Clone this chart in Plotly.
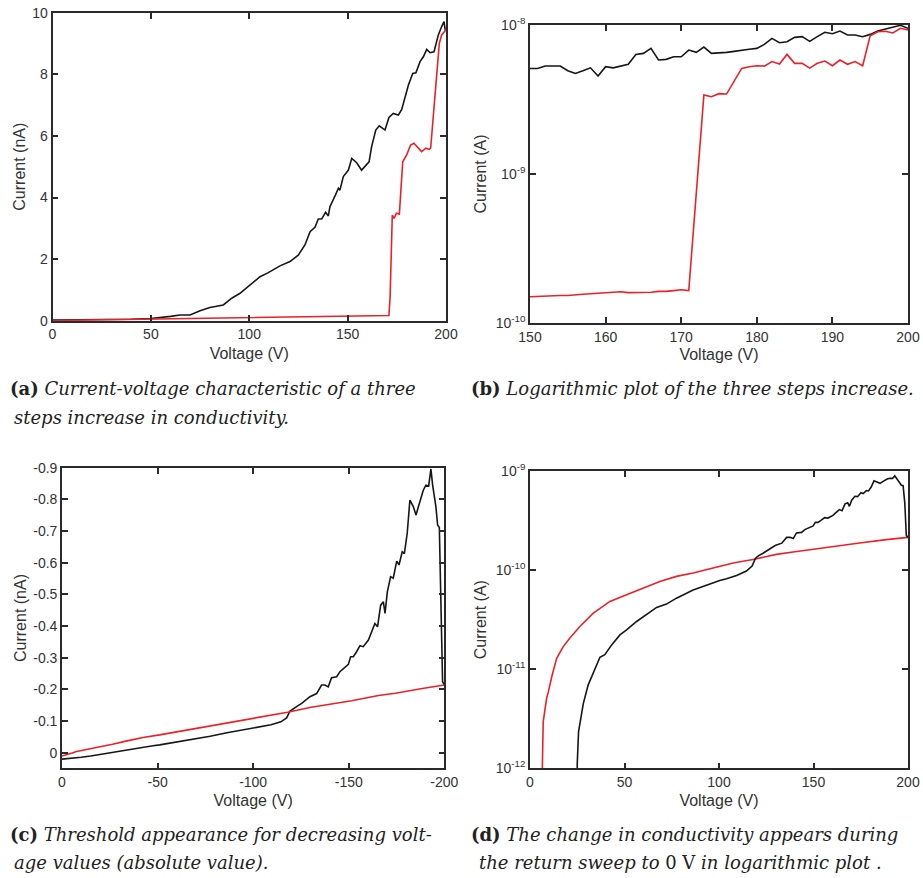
import plotly.graph_objects as go

# ---------------- data ----------------
# (a) Up sweep, linear plot, current in nA
v_a_black = [0, 10, 20, 30, 40, 50, 55, 60, 64.8, 69.9, 75, 80, 86.8, 91.1, 95.3, 99.5,
             105.5, 109.7, 115.6, 120.7, 123.3, 124.9, 128.3, 130.9, 133.4, 135.1, 136.8,
             138.8, 140.2, 141, 143.6, 145.3, 146.1, 147.8, 150.4, 152.1, 154.6, 157.1,
             160.9, 162.2, 164.3, 166.1, 169, 171, 173.2, 175.8, 177.5, 179.2, 180.9,
             183.1, 184.7, 186.8, 188.5, 190.2, 191.9, 193.9, 196.1, 197.8, 199, 199.6]
i_a_black = [0.02, 0.025, 0.03, 0.035, 0.045, 0.07, 0.10, 0.14, 0.185, 0.185, 0.32, 0.43,
             0.51, 0.73, 0.89, 1.10, 1.43, 1.56, 1.78, 1.92, 2.06, 2.13, 2.46, 2.89, 3.03,
             3.30, 3.30, 3.52, 3.40, 3.70, 4.05, 4.30, 4.24, 4.68, 4.89, 5.27, 5.13, 4.89,
             5.16, 5.65, 6.19, 6.33, 6.19, 6.60, 6.73, 6.68, 6.86, 7.27, 7.65, 8.03, 8.05,
             8.41, 8.57, 8.81, 8.70, 8.73, 9.28, 9.55, 9.71, 9.44]

v_a_red = [0, 25, 50, 75, 100, 125, 150, 171, 171.6, 172.7, 173.6, 174.8, 176.3, 178,
           180, 182, 183.7, 185.4, 187.6, 189.8, 191.5, 192.2, 194.4, 196.6, 197.8, 199.5,
           200]
i_a_red = [0.004, 0.028, 0.054, 0.081, 0.104, 0.128, 0.150, 0.168, 0.78, 3.43, 3.32, 3.49,
           3.46, 5.16, 5.38, 5.70, 5.76, 5.65, 5.49, 5.60, 5.56, 5.60, 7.27, 9.00, 9.28,
           9.42, 9.45]

# (b) Up sweep 150-200 V, logarithmic plot, current in A
v_b = [150, 151, 152, 153, 154, 155, 156, 157, 158, 159, 160, 161, 162, 163, 164, 165,
       166, 167, 168, 169, 170, 171, 172, 173, 174, 175, 176, 177, 178, 179, 180, 181, 182,
       183, 184, 185, 186, 187, 188, 189, 190, 191, 192, 193, 194, 195, 196, 197, 198,
       199, 200]
i_b_black = [5.11e-9, 5.11e-9, 5.31e-9, 5.31e-9, 5.31e-9, 4.93e-9, 4.73e-9, 4.93e-9,
             5.16e-9, 4.54e-9, 5.25e-9, 5.16e-9, 5.33e-9, 5.45e-9, 6.35e-9, 6.45e-9,
             6.97e-9, 5.82e-9, 5.88e-9, 6.12e-9, 6.12e-9, 6.79e-9, 6.55e-9, 7.11e-9,
             6.45e-9, 6.48e-9, 6.55e-9, 6.65e-9, 6.79e-9, 6.87e-9, 6.97e-9, 7.41e-9,
             8.13e-9, 7.60e-9, 7.72e-9, 8.26e-9, 8.35e-9, 7.76e-9, 8.35e-9, 8.93e-9,
             8.74e-9, 9.11e-9, 8.57e-9, 8.57e-9, 8.35e-9, 8.65e-9, 9.11e-9, 9.40e-9,
             9.70e-9, 9.95e-9, 9.50e-9]
i_b_red = [1.50e-10, 1.51e-10, 1.52e-10, 1.52e-10, 1.53e-10, 1.53e-10, 1.55e-10,
           1.56e-10, 1.57e-10, 1.58e-10, 1.60e-10, 1.61e-10, 1.62e-10, 1.60e-10, 1.60e-10,
           1.60e-10, 1.61e-10, 1.63e-10, 1.63e-10, 1.65e-10, 1.67e-10, 1.65e-10, 8.0e-10,
           3.39e-9, 3.30e-9, 3.46e-9, 3.44e-9, 4.21e-9, 5.11e-9, 5.25e-9, 5.33e-9,
           5.30e-9, 5.68e-9, 5.47e-9, 6.35e-9, 5.53e-9, 5.53e-9, 5.14e-9, 5.53e-9,
           5.73e-9, 5.33e-9, 5.82e-9, 5.45e-9, 5.68e-9, 5.33e-9, 8.48e-9, 9.02e-9,
           9.07e-9, 8.84e-9, 9.50e-9, 9.25e-9]

# (c)/(d) Sweep to negative voltages, current in nA (signed)
v_down_black = [0, -5, -10, -15, -20, -24, -25, -25.7, -26.8, -28.2, -30.8, -33.5, -37,
                -39.6, -43.2, -47.6, -51.1, -56.4, -61.7, -67, -72.2, -77.5, -86.3, -93.4,
                -100.4, -104, -109.3, -114.5, -117.5, -119.3, -121, -123.3, -125.4, -129.7,
                -133.2, -135.8, -137.6, -139.3, -141, -143.7, -145.4, -148, -149.8, -151,
                -152.4, -154.1, -155.9, -157.6, -160.3, -162, -163.7, -165.1, -166.7,
                -168.1, -169, -170.2, -171.9, -173.3, -175.1, -176.3, -178, -179.1, -180.6,
                -182, -183.8, -185.2, -186.4, -187.6, -189, -190.4, -191.8, -193, -193.9,
                -195.6, -196.5, -197.4, -198.3, -199.1, -200]
i_down_black = [0.020, 0.018, 0.014, 0.010, 0.005, 0.0006, -0.00112, -0.00235, -0.0032,
                -0.0045, -0.00695, -0.0091, -0.0132, -0.0140, -0.0176, -0.0222, -0.0249,
                -0.0303, -0.0354, -0.042, -0.0454, -0.0521, -0.063, -0.071, -0.0786,
                -0.0817, -0.0883, -0.0977, -0.110, -0.132, -0.140, -0.148, -0.156, -0.177,
                -0.187, -0.214, -0.214, -0.208, -0.237, -0.240, -0.256, -0.268, -0.279,
                -0.303, -0.303, -0.319, -0.338, -0.335, -0.356, -0.382, -0.408, -0.398,
                -0.466, -0.477, -0.440, -0.508, -0.556, -0.551, -0.605, -0.593, -0.635,
                -0.629, -0.693, -0.798, -0.777, -0.751, -0.777, -0.803, -0.829, -0.845,
                -0.842, -0.896, -0.845, -0.777, -0.719, -0.711, -0.477, -0.224, -0.214]

v_down_red = [0, -2, -4, -5.5, -6.2, -7, -7.9, -8.8, -9.7, -11.5, -14.1, -17.6, -21.1,
              -26.4, -33.5, -42.3, -51.1, -60, -68.7, -77.5, -86.3, -96.9, -107.5, -118,
              -130.4, -139.2, -151.5, -165.6, -174.4, -188.5, -200]
i_down_red = [0.0105, 0.0075, 0.0045, 0.0012, -0.0005, -0.00296, -0.00404, -0.0051,
              -0.0059, -0.0084, -0.0129, -0.0169, -0.0206, -0.0270, -0.0368, -0.0483,
              -0.0564, -0.0658, -0.0769, -0.0864, -0.0933, -0.105, -0.118, -0.128, -0.144,
              -0.152, -0.164, -0.181, -0.188, -0.203, -0.214]

# tick labels
ticks_a_x = [0, 50, 100, 150, 200]
ticks_a_y = [0, 2, 4, 6, 8, 10]
ticks_b_x = [150, 160, 170, 180, 190, 200]
ticks_b_y = [1e-10, 1e-9, 1e-8]
labels_b_y = ["10<sup>-10</sup>", "10<sup>-9</sup>", "10<sup>-8</sup>"]
ticks_c_x = [0, -50, -100, -150, -200]
labels_c_x = ["0", "-50", "-100", "-150", "-200"]
ticks_c_y = [0, -0.1, -0.2, -0.3, -0.4, -0.5, -0.6, -0.7, -0.8, -0.9]
labels_c_y = ["0", "-0.1", "-0.2", "-0.3", "-0.4", "-0.5", "-0.6", "-0.7", "-0.8", "-0.9"]
ticks_d_x = [0, 50, 100, 150, 200]
ticks_d_y = [1e-12, 1e-11, 1e-10, 1e-9]
labels_d_y = ["10<sup>-12</sup>", "10<sup>-11</sup>", "10<sup>-10</sup>", "10<sup>-9</sup>"]

captions = [
    ("<b>(a)</b> <i>Current-voltage characteristic of a three</i>", 8, 389),
    ("<i>steps increase in conductivity.</i>", 12, 417),
    ("<b>(b)</b> <i>Logarithmic plot of the three steps increase.</i>", 469, 389),
    ("<b>(c)</b> <i>Threshold appearance for decreasing volt-</i>", 8, 834),
    ("<i>age values (absolute value).</i>", 12, 862),
    ("<b>(d)</b> <i>The change in conductivity appears during</i>", 469, 834),
    ("<i>the return sweep to</i> 0 V <i>in logarithmic plot .</i>", 477, 862),
]

# ---------------- figure ----------------
W, H = 923, 878
BLACK = "#161616"
RED = "#ee2027"
AXC = "#2a2a2a"
FONT = "Liberation Sans, Arial, sans-serif"


def xdom(l, r):
    return [l / W, r / W]


def ydom(t, b):
    return [1 - b / H, 1 - t / H]


def axis(dom, **kw):
    d = dict(domain=dom, showline=True, linecolor=AXC, linewidth=1.6, mirror="ticks",
             ticks="inside", ticklen=6, tickwidth=1.6, tickcolor=AXC, showgrid=False,
             zeroline=False, automargin=False,
             tickfont=dict(family=FONT, size=14, color="#333"),
             title_font=dict(family=FONT, size=16, color="#333"))
    d.update(kw)
    return d


fig = go.Figure()
lw = 1.6
# (a)
fig.add_trace(go.Scatter(x=v_a_black, y=i_a_black, mode="lines",
                         line=dict(color=BLACK, width=lw), xaxis="x", yaxis="y"))
fig.add_trace(go.Scatter(x=v_a_red, y=i_a_red, mode="lines",
                         line=dict(color=RED, width=lw), xaxis="x", yaxis="y"))
# (b)
fig.add_trace(go.Scatter(x=v_b, y=i_b_black, mode="lines",
                         line=dict(color=BLACK, width=lw), xaxis="x2", yaxis="y2"))
fig.add_trace(go.Scatter(x=v_b, y=i_b_red, mode="lines",
                         line=dict(color=RED, width=lw), xaxis="x2", yaxis="y2"))
# (c)
fig.add_trace(go.Scatter(x=v_down_black, y=i_down_black, mode="lines",
                         line=dict(color=BLACK, width=lw), xaxis="x3", yaxis="y3"))
fig.add_trace(go.Scatter(x=v_down_red, y=i_down_red, mode="lines",
                         line=dict(color=RED, width=lw), xaxis="x3", yaxis="y3"))
# (d): return sweep shown as -I (A) vs -V on log scale
fig.add_trace(go.Scatter(x=[-v for v in v_down_red], y=[-i * 1e-9 for i in i_down_red],
                         mode="lines", line=dict(color=RED, width=lw), xaxis="x4", yaxis="y4"))
fig.add_trace(go.Scatter(x=[-v for v in v_down_black], y=[-i * 1e-9 for i in i_down_black],
                         mode="lines", line=dict(color=BLACK, width=lw), xaxis="x4", yaxis="y4"))

fig.update_layout(
    width=W, height=H, autosize=False, margin=dict(l=0, r=0, t=0, b=0),
    paper_bgcolor="white", plot_bgcolor="white", showlegend=False,
    xaxis=axis(xdom(52.5, 446), anchor="y", range=[0, 200], tickvals=ticks_a_x,
               title=dict(text="Voltage (V)", standoff=7)),
    yaxis=axis(ydom(12.7, 320.7), anchor="x", range=[0, 10], tickvals=ticks_a_y,
               title=dict(text="Current (nA)", standoff=3)),
    xaxis2=axis(xdom(530, 908), anchor="y2", range=[150, 200], tickvals=ticks_b_x,
                title=dict(text="Voltage (V)", standoff=5)),
    yaxis2=axis(ydom(25, 323), anchor="x2", type="log", range=[-10, -8], tickvals=ticks_b_y,
                ticktext=labels_b_y, title=dict(text="Current (A)", standoff=5)),
    xaxis3=axis(xdom(62, 444.3), anchor="y3", range=[0, -200], tickvals=ticks_c_x,
                ticktext=labels_c_x, title=dict(text="Voltage (V)", standoff=6)),
    yaxis3=axis(ydom(467.7, 768.3), anchor="x3", range=[0.049, -0.9], tickvals=ticks_c_y,
                ticktext=labels_c_y, title=dict(text="Current (nA)", standoff=3)),
    xaxis4=axis(xdom(530, 908), anchor="y4", range=[0, 200], tickvals=ticks_d_x,
                title=dict(text="Voltage (V)", standoff=6)),
    yaxis4=axis(ydom(471, 768.3), anchor="x4", type="log", range=[-12, -9], tickvals=ticks_d_y,
                ticktext=labels_d_y, title=dict(text="Current (A)", standoff=5)),
)

for text, x, y in captions:
    fig.add_annotation(text=text, xref="paper", yref="paper", x=x / W, y=1 - y / H,
                       xanchor="left", yanchor="middle", showarrow=False,
                       font=dict(family="DejaVu Serif", size=18, color="#222"))

fig.write_html("out.html")
